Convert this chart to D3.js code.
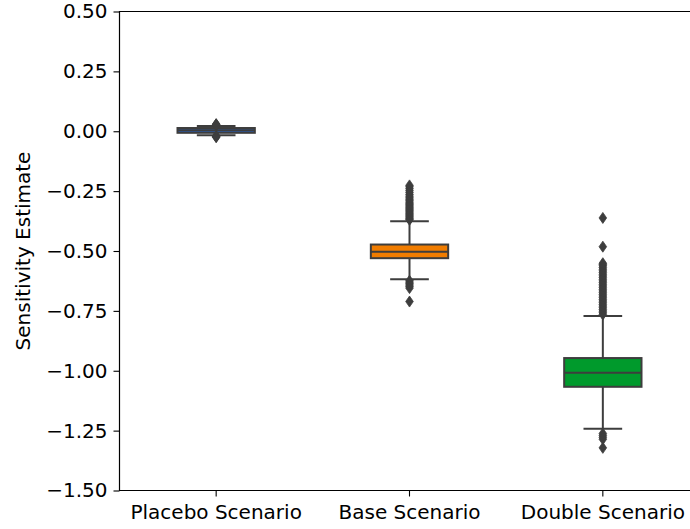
<!DOCTYPE html>
<html>
<head>
<meta charset="utf-8">
<script src="https://cdn.jsdelivr.net/npm/d3@7/dist/d3.min.js"></script>
<style>
  html, body { margin: 0; padding: 0; background: #fff; }
  svg { display: block; }
  text { font-family: "DejaVu Sans", sans-serif; }
</style>
</head>
<body>
<svg id="chart" width="690" height="529"></svg>
<script>
// Box-plot summaries of the sensitivity estimate for each scenario
const categories   = ["Placebo Scenario", "Base Scenario", "Double Scenario"];
const boxColors    = ["#2a5db0", "#f07c00", "#009a2c"];
const medians      = [0.004, -0.503, -1.008];
const q1Values     = [-0.0065, -0.530, -1.067];
const q3Values     = [0.0135, -0.473, -0.947];
const whiskerLow   = [-0.017, -0.618, -1.242];
const whiskerHigh  = [0.022, -0.376, -0.771];
const outliers = [
  [0.024, 0.026, 0.028, 0.030, -0.019, -0.021, -0.023, -0.025],
  [-0.370, -0.366, -0.362, -0.357, -0.352, -0.347, -0.342, -0.337, -0.332, -0.327,
   -0.322, -0.317, -0.312, -0.307, -0.302, -0.296, -0.290, -0.284, -0.278, -0.271,
   -0.264, -0.256, -0.248, -0.240, -0.232, -0.226,
   -0.624, -0.630, -0.636, -0.642, -0.648, -0.655, -0.711],
  [-0.765, -0.758, -0.751, -0.744, -0.737, -0.730, -0.723, -0.716, -0.709, -0.702,
   -0.695, -0.688, -0.681, -0.674, -0.667, -0.660, -0.653, -0.646, -0.639, -0.632,
   -0.625, -0.618, -0.611, -0.604, -0.597, -0.590, -0.583, -0.576, -0.569, -0.562,
   -0.556, -0.551, -0.482, -0.362,
   -1.262, -1.270, -1.278, -1.286, -1.322]
];
const yTicks = [0.5, 0.25, 0, -0.25, -0.5, -0.75, -1.0, -1.25, -1.5];

const svg = d3.select("#chart");
const plotLeft = 119.5, plotTop = 11.5, plotBottom = 490.5, plotRight = 699.5;
const lineColor = "#3d3d3d";

const x = d3.scaleBand().domain(categories).range([plotLeft, plotRight]).padding(0);
const y = d3.scaleLinear().domain([-1.5, 0.5]).range([plotBottom, plotTop]);

const boxW = x.bandwidth() * 0.4;
const capW = boxW * 0.5;

// Axes
const yAxis = svg.append("g")
  .attr("transform", `translate(${plotLeft},0)`)
  .call(d3.axisLeft(y).tickValues(yTicks).tickFormat(d3.format(".2f")).tickSize(6).tickPadding(6));
yAxis.selectAll("text").text(d => d3.format(".2f")(d).replace("-", "\u2212"))
  .attr("font-size", 20).attr("fill", "#000");

const xAxis = svg.append("g")
  .attr("transform", `translate(0,${plotBottom})`)
  .call(d3.axisBottom(x).tickSize(6).tickPadding(8));
xAxis.selectAll("text").attr("font-size", 20).attr("fill", "#000");

svg.selectAll(".domain").remove();
svg.selectAll(".tick line").attr("stroke", "#000").attr("stroke-width", 1.1);

// Frame (top, left, bottom spines; the right edge lies past the view)
svg.append("path")
  .attr("d", `M${plotRight},${plotTop}H${plotLeft}V${plotBottom}H${plotRight}`)
  .attr("fill", "none").attr("stroke", "#000").attr("stroke-width", 1.2);

// Y label
svg.append("text")
  .attr("transform", `translate(29.5,${(plotTop + plotBottom) / 2}) rotate(-90)`)
  .attr("text-anchor", "middle")
  .attr("font-size", 20)
  .attr("fill", "#000")
  .text("Sensitivity Estimate");

// Diamond flier marker
const diamond = "M0,-5.5L3.8,0L0,5.5L-3.8,0Z";

categories.forEach((c, i) => {
  const cx = x(c) + x.bandwidth() / 2;
  const g = svg.append("g");
  // whiskers
  g.append("line").attr("x1", cx).attr("x2", cx)
    .attr("y1", y(q3Values[i])).attr("y2", y(whiskerHigh[i]))
    .attr("stroke", lineColor).attr("stroke-width", 2);
  g.append("line").attr("x1", cx).attr("x2", cx)
    .attr("y1", y(q1Values[i])).attr("y2", y(whiskerLow[i]))
    .attr("stroke", lineColor).attr("stroke-width", 2);
  // caps
  [whiskerHigh[i], whiskerLow[i]].forEach(v => {
    g.append("line").attr("x1", cx - capW / 2).attr("x2", cx + capW / 2)
      .attr("y1", y(v)).attr("y2", y(v))
      .attr("stroke", lineColor).attr("stroke-width", 2);
  });
  // box
  g.append("rect")
    .attr("x", cx - boxW / 2).attr("width", boxW)
    .attr("y", y(q3Values[i])).attr("height", y(q1Values[i]) - y(q3Values[i]))
    .attr("fill", boxColors[i]).attr("stroke", lineColor).attr("stroke-width", 2);
  // median
  g.append("line").attr("x1", cx - boxW / 2).attr("x2", cx + boxW / 2)
    .attr("y1", y(medians[i])).attr("y2", y(medians[i]))
    .attr("stroke", lineColor).attr("stroke-width", 2);
  // fliers
  g.selectAll("path.flier").data(outliers[i]).join("path")
    .attr("class", "flier")
    .attr("d", diamond)
    .attr("transform", d => `translate(${cx},${y(d)})`)
    .attr("fill", lineColor).attr("stroke", lineColor).attr("stroke-width", 0.8);
});
</script>
</body>
</html>
